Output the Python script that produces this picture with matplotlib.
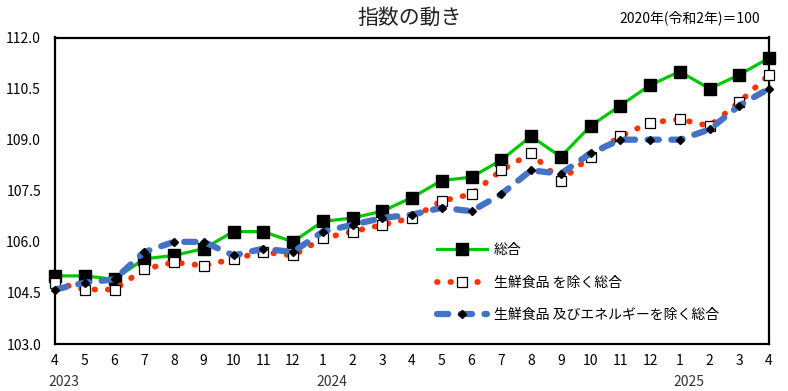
import matplotlib
matplotlib.use("Agg")
import matplotlib.pyplot as plt

plt.rcParams['font.family'] = ['Noto Sans CJK JP', 'DejaVu Sans']

months = ["4", "5", "6", "7", "8", "9", "10", "11", "12", "1", "2", "3",
          "4", "5", "6", "7", "8", "9", "10", "11", "12", "1", "2", "3", "4"]
years = ["2023", "2024", "2025"]
year_pos = [0, 9, 21]

total = [105.0, 105.0, 104.9, 105.5, 105.6, 105.8, 106.3, 106.3, 106.0, 106.6,
         106.7, 106.9, 107.3, 107.8, 107.9, 108.4, 109.1, 108.5, 109.4, 110.0,
         110.6, 111.0, 110.5, 110.9, 111.4]
ex_fresh = [104.8, 104.6, 104.6, 105.2, 105.4, 105.3, 105.5, 105.7, 105.6, 106.1,
            106.3, 106.5, 106.7, 107.2, 107.4, 108.1, 108.6, 107.8, 108.5, 109.1,
            109.5, 109.6, 109.4, 110.1, 110.9]
ex_fresh_energy = [104.6, 104.8, 104.9, 105.7, 106.0, 106.0, 105.6, 105.8, 105.7, 106.3,
                   106.5, 106.7, 106.8, 107.0, 106.9, 107.4, 108.1, 108.0, 108.6, 109.0,
                   109.0, 109.0, 109.3, 110.0, 110.5]

labels = ["総合", "生鮮食品 を除く総合", "生鮮食品 及びエネルギーを除く総合"]
yticks = [103.0, 104.5, 106.0, 107.5, 109.0, 110.5, 112.0]


def main():
    fig = plt.figure(figsize=(7.88, 3.91), dpi=100)
    ax = fig.add_axes([55 / 788, 1 - 344 / 391, (769 - 55) / 788, (344 - 37.5) / 391])
    x = list(range(len(months)))

    ax.plot(x, total, color="#00C800", lw=2.3, marker="s", ms=8,
            mfc="black", mec="black", clip_on=False, zorder=3, label=labels[0])
    ax.plot(x, ex_fresh, color="#FF3300", lw=4.2, ls=(0, (0.1, 2.2)),
            dash_capstyle="round", marker="s", ms=7.5, mfc="white", mec="black",
            mew=0.9, clip_on=False, zorder=4, label=labels[1])
    ax.plot(x, ex_fresh_energy, color="#4472C4", lw=4.5, ls=(0, (1.8, 2.0)),
            dash_capstyle="round", marker="D", ms=4, mfc="black", mec="black",
            clip_on=False, zorder=5, label=labels[2])

    ax.set_xlim(0, 24)
    ax.set_ylim(103, 112)
    ax.set_xticks(x)
    ax.set_xticklabels(months, fontsize=10)
    ax.set_yticks(yticks)
    ax.set_yticklabels(["%.1f" % v for v in yticks], fontsize=10)
    ax.tick_params(length=0)
    ax.tick_params(axis="y", pad=10)
    ax.tick_params(axis="x", pad=7)
    for s in ax.spines.values():
        s.set_linewidth(1.6)
        s.set_color("black")

    for yr, p in zip(years, year_pos):
        ax.text(p + 0.3, -0.124, yr, transform=ax.get_xaxis_transform(),
                ha="center", va="center", fontsize=10, color="#333333")

    ax.legend(loc="upper left", bbox_to_anchor=(0.535, 0.33),
              frameon=False, fontsize=10, handlelength=3.6,
              handletextpad=0.5, labelspacing=1.35, borderpad=0,
              borderaxespad=0)

    fig.text(410 / 788, 1 - 18 / 391, "指数の動き", ha="center", va="center",
             fontsize=15, color="#222222")
    fig.text(760 / 788, 1 - 18 / 391, "2020年(令和2年)＝100", ha="right",
             va="center", fontsize=10)

    fig.savefig("out.png", dpi=100)


if __name__ == "__main__":
    main()
